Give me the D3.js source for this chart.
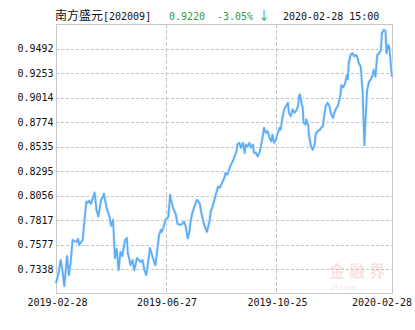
<!DOCTYPE html>
<html><head><meta charset="utf-8">
<script src="https://cdn.jsdelivr.net/npm/d3@7/dist/d3.min.js"></script>
<style>html,body{margin:0;padding:0;background:#fff;}svg{display:block;}</style>
</head><body>
<svg id="c" width="415" height="330"></svg>
<script>
const fundName = "南方盛元";
const fundCode = "[202009]";
const lastValue = "0.9220";
const lastChange = "-3.05%";
const lastArrow = "↓";
const lastTime = "2020-02-28 15:00";
const xTickLabels = ["2019-02-28", "2019-06-27", "2019-10-25", "2020-02-28"];
const yTicks = [0.7338, 0.7577, 0.7817, 0.8056, 0.8295, 0.8535, 0.8774, 0.9014, 0.9253, 0.9492];
const yDomain = [0.7099, 0.9731];
const dates = [
"2019-02-28","2019-03-03","2019-03-05","2019-03-07","2019-03-09","2019-03-12","2019-03-14","2019-03-16","2019-03-18","2019-03-22",
"2019-03-24","2019-03-25","2019-03-29","2019-03-31","2019-04-02","2019-04-03","2019-04-05","2019-04-07","2019-04-09","2019-04-11",
"2019-04-13","2019-04-15","2019-04-18","2019-04-20","2019-04-21","2019-04-24","2019-04-27","2019-04-29","2019-05-01","2019-05-03",
"2019-05-05","2019-05-07","2019-05-09","2019-05-11","2019-05-14","2019-05-16","2019-05-17","2019-05-20","2019-05-22","2019-05-24",
"2019-05-27","2019-05-29","2019-05-31","2019-06-02","2019-06-04","2019-06-06","2019-06-08","2019-06-10","2019-06-13","2019-06-15",
"2019-06-16","2019-06-18","2019-06-20","2019-06-22","2019-06-23","2019-06-25","2019-06-27","2019-06-29","2019-06-30","2019-07-02",
"2019-07-03","2019-07-05","2019-07-08","2019-07-10","2019-07-13","2019-07-15","2019-07-17","2019-07-19","2019-07-21","2019-07-23",
"2019-07-24","2019-07-26","2019-07-29","2019-07-31","2019-08-03","2019-08-05","2019-08-08","2019-08-11","2019-08-14","2019-08-15",
"2019-08-17","2019-08-20","2019-08-23","2019-08-25","2019-08-27","2019-08-30","2019-08-31","2019-09-02","2019-09-04","2019-09-06",
"2019-09-08","2019-09-10","2019-09-12","2019-09-13","2019-09-15","2019-09-17","2019-09-19","2019-09-21","2019-09-22","2019-09-24",
"2019-09-26","2019-09-28","2019-09-30","2019-10-01","2019-10-03","2019-10-05","2019-10-07","2019-10-09","2019-10-10","2019-10-12",
"2019-10-14","2019-10-16","2019-10-18","2019-10-20","2019-10-21","2019-10-23","2019-10-25","2019-10-27","2019-10-29","2019-10-30",
"2019-11-01","2019-11-03","2019-11-05","2019-11-07","2019-11-08","2019-11-10","2019-11-12","2019-11-14","2019-11-16","2019-11-18",
"2019-11-19","2019-11-20","2019-11-22","2019-11-23","2019-11-24","2019-11-26","2019-11-27","2019-11-29","2019-11-30","2019-12-02",
"2019-12-04","2019-12-06","2019-12-07","2019-12-09","2019-12-11","2019-12-13","2019-12-15","2019-12-16","2019-12-18","2019-12-20",
"2019-12-22","2019-12-24","2019-12-26","2019-12-27","2019-12-29","2019-12-31","2020-01-01","2020-01-03","2020-01-04","2020-01-06",
"2020-01-08","2020-01-10","2020-01-11","2020-01-12","2020-01-14","2020-01-16","2020-01-18","2020-01-20","2020-01-21","2020-01-23",
"2020-01-25","2020-01-27","2020-01-29","2020-01-30","2020-02-01","2020-02-03","2020-02-05","2020-02-07","2020-02-08","2020-02-10",
"2020-02-12","2020-02-14","2020-02-16","2020-02-17","2020-02-19","2020-02-21","2020-02-22","2020-02-24","2020-02-25","2020-02-28"
];
const navValues = [
0.7204,0.7312,0.7429,0.7331,0.7174,0.7468,0.7282,0.7410,0.7625,0.7606,
0.7635,0.7576,0.7625,0.7822,0.8000,0.7988,0.8008,0.7979,0.8037,0.8087,
0.7920,0.7854,0.8018,0.8047,0.8077,0.7939,0.7854,0.7763,0.7822,0.7449,
0.7537,0.7331,0.7508,0.7468,0.7625,0.7645,0.7498,0.7380,0.7429,0.7331,
0.7449,0.7429,0.7410,0.7429,0.7331,0.7282,0.7400,0.7547,0.7459,0.7400,
0.7380,0.7527,0.7674,0.7724,0.7704,0.7756,0.7822,0.7841,0.7851,0.8067,
0.8018,0.7939,0.7880,0.7782,0.7773,0.7782,0.7805,0.7756,0.7642,0.7707,
0.7792,0.7887,0.7969,0.8018,0.7985,0.7887,0.7773,0.7704,0.7822,0.7900,
0.7949,0.8047,0.8145,0.8136,0.8175,0.8234,0.8280,0.8263,0.8312,0.8361,
0.8394,0.8443,0.8489,0.8557,0.8574,0.8525,0.8574,0.8476,0.8557,0.8538,
0.8574,0.8528,0.8557,0.8476,0.8479,0.8443,0.8479,0.8557,0.8606,0.8721,
0.8672,0.8688,0.8623,0.8590,0.8655,0.8574,0.8606,0.8672,0.8721,0.8705,
0.8819,0.8901,0.8933,0.8966,0.8868,0.8835,0.8901,0.8868,0.8891,0.8933,
0.9031,0.9048,0.8950,0.8917,0.8770,0.8754,0.8803,0.8744,0.8639,0.8541,
0.8508,0.8557,0.8655,0.8688,0.8695,0.8721,0.8737,0.8819,0.8933,0.8966,
0.8933,0.8852,0.8819,0.8860,0.8905,0.8933,0.8960,0.9048,0.9139,0.9117,
0.9156,0.9237,0.9195,0.9352,0.9433,0.9450,0.9421,0.9433,0.9421,0.9352,
0.9320,0.9090,0.8551,0.8763,0.9090,0.9172,0.9195,0.9237,0.9286,0.9222,
0.9433,0.9450,0.9482,0.9646,0.9679,0.9666,0.9450,0.9531,0.9510,0.9220
];

const parse = d3.timeParse("%Y-%m-%d");
const data = dates.map((d, i) => ({date: parse(d), v: navValues[i]}));
const svg = d3.select("#c");
const L = 56, R = 392, T = 24, B = 293;
const x = d3.scaleTime().domain([parse(xTickLabels[0]), parse(xTickLabels[3])]).range([L, R]);
const y = d3.scaleLinear().domain(yDomain).range([B + 0.8, T + 0.5]);
const mono = "'DejaVu Sans Mono', 'Liberation Mono', monospace";

// watermark
const wm = svg.append("g").attr("opacity", 0.4);
wm.append("text").attr("x", 329).attr("y", 277).attr("font-family", "'Noto Sans CJK SC'").attr("font-weight", "bold")
  .attr("font-size", 16).attr("fill", "#eeb8b8").attr("textLength", 56).text("金融界");
wm.append("text").attr("x", 330).attr("y", 290).attr("font-family", "'Liberation Sans'").attr("font-style", "italic")
  .attr("font-size", 7).attr("fill", "#eeb8b8").text("JRJ.com");

// horizontal grid
svg.append("g").selectAll("line").data(yTicks).join("line")
  .attr("x1", L).attr("x2", R)
  .attr("y1", d => Math.round(y(d)) + 0.5).attr("y2", d => Math.round(y(d)) + 0.5)
  .attr("stroke", "#c4c4c4").attr("stroke-dasharray", "3,2");
// vertical grid
const xTickDates = xTickLabels.map(parse);
svg.append("g").selectAll("line").data(xTickDates.slice(1, 3)).join("line")
  .attr("x1", d => Math.round(x(d)) + 0.5).attr("x2", d => Math.round(x(d)) + 0.5)
  .attr("y1", T).attr("y2", B)
  .attr("stroke", "#c4c4c4").attr("stroke-dasharray", "4,2");

// frame
svg.append("rect").attr("x", L + 0.5).attr("y", T + 0.5).attr("width", R - L).attr("height", B - T)
  .attr("fill", "none").attr("stroke", "#c8c8c8");

// y labels
svg.append("g").selectAll("text").data(yTicks).join("text")
  .attr("x", 53.5).attr("y", d => y(d) + 3.5).attr("text-anchor", "end")
  .attr("font-family", mono).attr("font-size", 10).attr("fill", "#111")
  .text(d => d.toFixed(4));
// x labels
svg.append("g").selectAll("text").data(xTickLabels).join("text")
  .attr("x", d => Math.min(x(parse(d)) + 1.5, 412 - 30)).attr("y", 305.5).attr("text-anchor", "middle")
  .attr("font-family", mono).attr("font-size", 10).attr("fill", "#111")
  .text(d => d);

// line
const line = d3.line().x(d => x(d.date)).y(d => y(d.v)).curve(d3.curveLinear);
svg.append("path").datum(data).attr("d", line).attr("fill", "none")
  .attr("stroke", "#e3f1ff").attr("stroke-width", 3.5).attr("stroke-linejoin", "round");
svg.append("path").datum(data).attr("d", line).attr("fill", "none")
  .attr("stroke", "#5eacf3").attr("stroke-width", 1.8).attr("stroke-linejoin", "round");

// header
svg.append("text").attr("x", 55).attr("y", 20).attr("font-family", "'Noto Sans CJK SC'").attr("font-size", 12)
  .attr("fill", "#111").text(fundName);
svg.append("text").attr("x", 103).attr("y", 20).attr("font-family", mono).attr("font-size", 10)
  .attr("fill", "#111").text(fundCode);
svg.append("text").attr("x", 169).attr("y", 20).attr("font-family", mono).attr("font-size", 10)
  .attr("fill", "#3a9a3a").text(lastValue);
svg.append("text").attr("x", 217).attr("y", 20).attr("font-family", mono).attr("font-size", 10)
  .attr("fill", "#3a9a3a").text(lastChange);
svg.append("text").attr("x", 258).attr("y", 20).attr("font-family", "'Noto Sans CJK SC'").attr("font-size", 12)
  .attr("fill", "#3a9a3a").text(lastArrow);
svg.append("text").attr("x", 283).attr("y", 20).attr("font-family", mono).attr("font-size", 10)
  .attr("fill", "#111").text(lastTime);
</script>
</body></html>
